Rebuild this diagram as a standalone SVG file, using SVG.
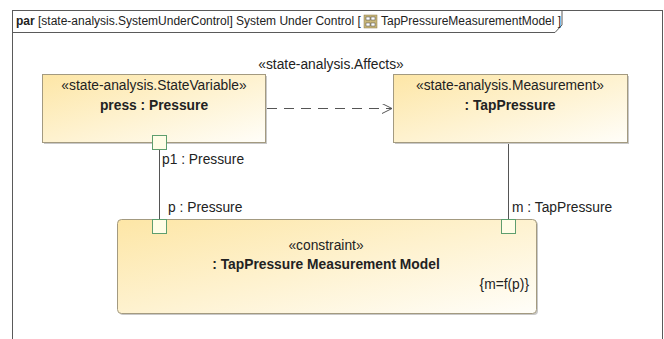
<svg xmlns="http://www.w3.org/2000/svg" width="664" height="339" viewBox="0 0 664 339">
<style>
text{font-family:"Liberation Sans",Arial,sans-serif;font-size:13.8px;fill:#222}
.b{font-weight:bold}
.hdr{font-size:12px}
.box{stroke:#a39a80;stroke-width:1}
.shadow{fill:#c8c8c8}
.port{fill:#fffde6;stroke:#5e9e6e;stroke-width:1}
.conn{stroke:#555;stroke-width:1;fill:none}
</style>
<defs>
<linearGradient id="g" x1="0" y1="0" x2="1" y2="1">
<stop offset="0" stop-color="#fde6a6"/>
<stop offset="1" stop-color="#fffef9"/>
</linearGradient>
<marker id="open" markerWidth="12" markerHeight="12" refX="10" refY="5" orient="auto" markerUnits="userSpaceOnUse">
<path d="M0,0 L10,5 L0,10" fill="none" stroke="#555" stroke-width="1"/>
</marker>
</defs>
<g id="frame">
<rect x="12.5" y="10.5" width="650" height="340" fill="#fff" stroke="#5a5a5a" stroke-width="1"/>
<path d="M12.5,32.5 H555 L562,25 V10.5" fill="none" stroke="#5a5a5a" stroke-width="1"/>
<text class="hdr" x="16" y="25"><tspan class="b">par</tspan> [state-analysis.SystemUnderControl] System Under Control [</text>
<g id="icon">
<rect x="364" y="15" width="13" height="13" fill="#c9b77a" stroke="#8a7a4a" stroke-width="0.5"/>
<rect x="366" y="17" width="4" height="3" fill="#fff" stroke="#444" stroke-width="0.5"/>
<rect x="371" y="17" width="4" height="3" fill="#fff" stroke="#444" stroke-width="0.5"/>
<rect x="366" y="23" width="4" height="3" fill="#fff" stroke="#444" stroke-width="0.5"/>
<rect x="371" y="23" width="4" height="3" fill="#fff" stroke="#444" stroke-width="0.5"/>
</g>
<text class="hdr" x="381" y="25">TapPressureMeasurementModel ]</text>
</g>
<g id="connectors">
<line class="conn" x1="267" y1="108.5" x2="392" y2="108.5" stroke-dasharray="10,7" marker-end="url(#open)"/>
<text x="331" y="69" text-anchor="middle">«state-analysis.Affects»</text>
<line class="conn" x1="159.5" y1="150" x2="159.5" y2="219"/>
<line class="conn" x1="508.5" y1="144" x2="508.5" y2="219"/>
</g>
<g id="press">
<rect class="shadow" x="44" y="76" width="223" height="68"/>
<rect class="box" x="42.5" y="74.5" width="223" height="68" fill="url(#g)"/>
<text x="154" y="90" text-anchor="middle">«state-analysis.StateVariable»</text>
<text class="b" x="154" y="110" text-anchor="middle">press : Pressure</text>
<rect class="port" x="152.5" y="135.5" width="14" height="14"/>
<text x="162" y="164">p1 : Pressure</text>
</g>
<g id="tappressure">
<rect class="shadow" x="395" y="76" width="234" height="68"/>
<rect class="box" x="393.5" y="74.5" width="234" height="68" fill="url(#g)"/>
<text x="510" y="90" text-anchor="middle">«state-analysis.Measurement»</text>
<text class="b" x="510" y="110" text-anchor="middle">: TapPressure</text>
</g>
<g id="constraint">
<rect class="shadow" x="119" y="221" width="419" height="94" rx="4"/>
<rect class="box" x="117.5" y="219.5" width="419" height="94" rx="4" fill="url(#g)"/>
<text x="326" y="250" text-anchor="middle">«constraint»</text>
<text class="b" x="326" y="269" text-anchor="middle">: TapPressure Measurement Model</text>
<text x="529" y="289" text-anchor="end">{m=f(p)}</text>
<rect class="port" x="152.5" y="219.5" width="14" height="14"/>
<rect class="port" x="501.5" y="219.5" width="14" height="14"/>
<text x="168" y="212">p : Pressure</text>
<text x="512" y="212">m : TapPressure</text>
</g>
</svg>
